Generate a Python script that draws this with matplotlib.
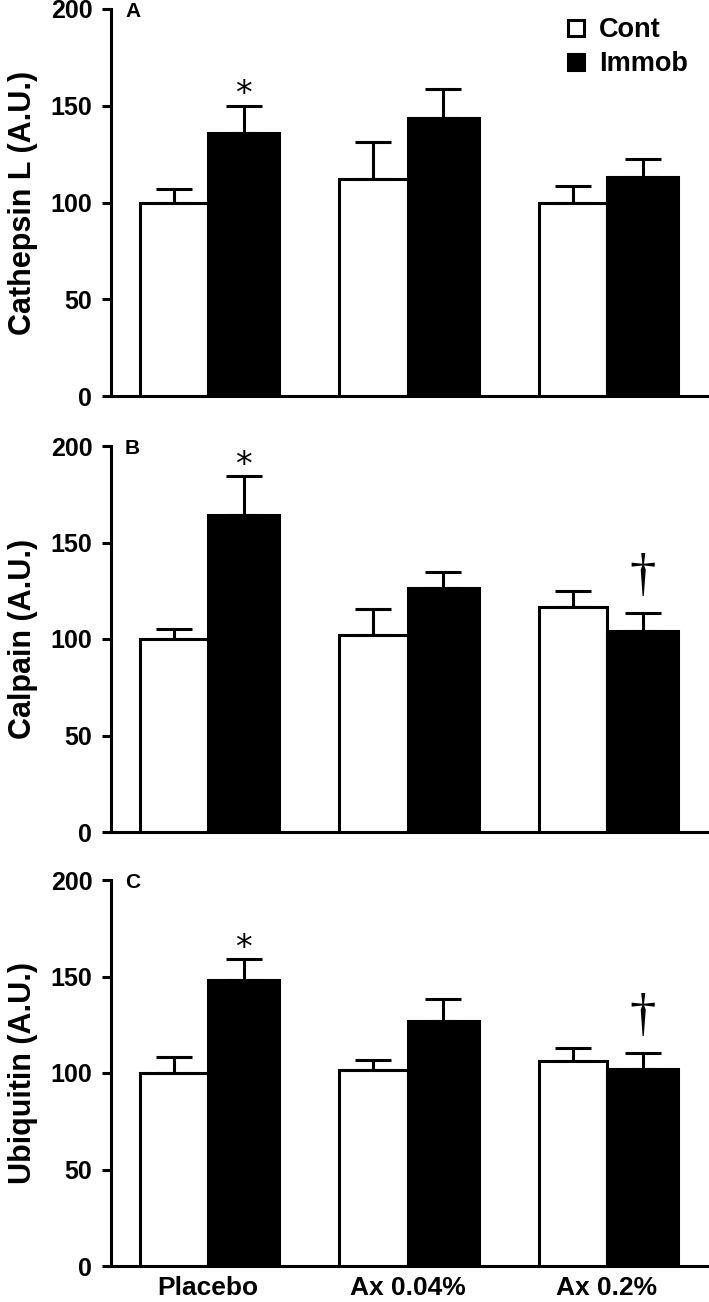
import numpy as np
import matplotlib
matplotlib.use("Agg")
import matplotlib.pyplot as plt
from matplotlib.lines import Line2D

# Data
groups = ['Placebo', 'Ax 0.04%', 'Ax 0.2%']
series = ['Cont', 'Immob']

cathepsin_cont = [100, 112, 99.5]
cathepsin_cont_err = [7, 19.5, 9]
cathepsin_immob = [136, 143.8, 113]
cathepsin_immob_err = [14, 14.6, 9.3]

calpain_cont = [100, 102, 116.5]
calpain_cont_err = [5, 13.5, 8.5]
calpain_immob = [164, 126.5, 104.3]
calpain_immob_err = [20.5, 8, 9]

ubiquitin_cont = [100, 101.7, 106.4]
ubiquitin_cont_err = [8.3, 5.2, 6.5]
ubiquitin_immob = [148.3, 127.2, 102]
ubiquitin_immob_err = [10.8, 11.2, 8.3]

# significance marks over the Immob bars: (group index, symbol)
cathepsin_marks = [(0, '*')]
calpain_marks = [(0, '*'), (2, '\u2020')]
ubiquitin_marks = [(0, '*'), (2, '\u2020')]

panels = [
    ('A', 'Cathepsin L (A.U.)', cathepsin_cont, cathepsin_cont_err,
     cathepsin_immob, cathepsin_immob_err, cathepsin_marks),
    ('B', 'Calpain (A.U.)', calpain_cont, calpain_cont_err,
     calpain_immob, calpain_immob_err, calpain_marks),
    ('C', 'Ubiquitin (A.U.)', ubiquitin_cont, ubiquitin_cont_err,
     ubiquitin_immob, ubiquitin_immob_err, ubiquitin_marks),
]

W, H = 709, 1302
plt.rcParams['font.family'] = ['Liberation Sans', 'DejaVu Sans']
plt.rcParams['font.weight'] = 'bold'

fig = plt.figure(figsize=(W / 100, H / 100), dpi=100)

# axes boxes in pixels: (y of 200 tick, y of 0 tick)
boxes = [(9, 396), (446, 832), (880, 1266)]
left_px, right_px = 111, 709
lw = 2.2
wc, wi = 0.342, 0.357
x = np.arange(len(groups))

for i, (letter, ylabel, cont, cont_err, immob, immob_err, marks) in enumerate(panels):
    top_px, bot_px = boxes[i]
    ax = fig.add_axes([left_px / W, 1 - bot_px / H,
                       (right_px - left_px) / W, (bot_px - top_px) / H])

    ax.bar(x, cont, width=-wc, align='edge', color='white',
           edgecolor='black', linewidth=lw, zorder=3)
    ax.bar(x, immob, width=wi, align='edge', color='black',
           edgecolor='black', linewidth=lw, zorder=3)
    ax.errorbar(x - wc / 2, cont, yerr=[np.zeros(3), cont_err], fmt='none',
                ecolor='black', elinewidth=lw, capsize=13.3, capthick=lw, zorder=2)
    ax.errorbar(x + wi / 2, immob, yerr=[np.zeros(3), immob_err], fmt='none',
                ecolor='black', elinewidth=lw, capsize=13.3, capthick=lw, zorder=2)

    for g, sym in marks:
        top = immob[g] + immob_err[g]
        if sym == '*':
            ax.annotate(sym, xy=(g + wi / 2, top), xytext=(0, 1),
                        textcoords='offset points', ha='center', va='baseline',
                        fontsize=24, fontweight='normal',
                        family=['DejaVu Sans'])
        else:
            ax.annotate(sym, xy=(g + wi / 2, top), xytext=(0, 17),
                        textcoords='offset points', ha='center', va='baseline',
                        fontsize=38, fontweight='normal',
                        family=['Liberation Serif', 'DejaVu Serif'])

    ax.set_xlim(-0.486, 2.511)
    ax.set_ylim(0, 200)
    ax.set_yticks([0, 50, 100, 150, 200])
    ax.spines['top'].set_visible(False)
    ax.spines['right'].set_visible(False)
    ax.spines['left'].set_linewidth(lw)
    ax.spines['bottom'].set_linewidth(lw)
    ax.tick_params(axis='y', direction='out', length=6.5, width=lw,
                   labelsize=18, pad=7)
    ax.tick_params(axis='x', length=0, labelsize=19, pad=7)
    ax.set_xticks(x)
    if i == 2:
        ax.set_xticklabels(groups)
    else:
        ax.set_xticklabels([])

    ax.set_ylabel(ylabel, fontsize=22, fontweight='bold')
    ax.yaxis.set_label_coords((38 - left_px) / (right_px - left_px), 0.5)

    ax.text(14 / (right_px - left_px), 0.98, letter, transform=ax.transAxes,
            fontsize=15, fontweight='bold', va='baseline', ha='left')

handles = [
    Line2D([], [], linestyle='none', marker='s', markersize=11.5,
           markerfacecolor='white', markeredgecolor='black', markeredgewidth=2.2),
    Line2D([], [], linestyle='none', marker='s', markersize=11.5,
           markerfacecolor='black', markeredgecolor='black', markeredgewidth=2.2),
]
fig.legend(handles, series, loc='upper left', bbox_to_anchor=(565 / W, 1 - 17 / H),
           frameon=False, borderpad=0, borderaxespad=0, handlelength=0.8,
           handletextpad=0.45, labelspacing=0.3,
           prop={'size': 19.5, 'weight': 'bold'})

fig.savefig('out.png', dpi=100)
